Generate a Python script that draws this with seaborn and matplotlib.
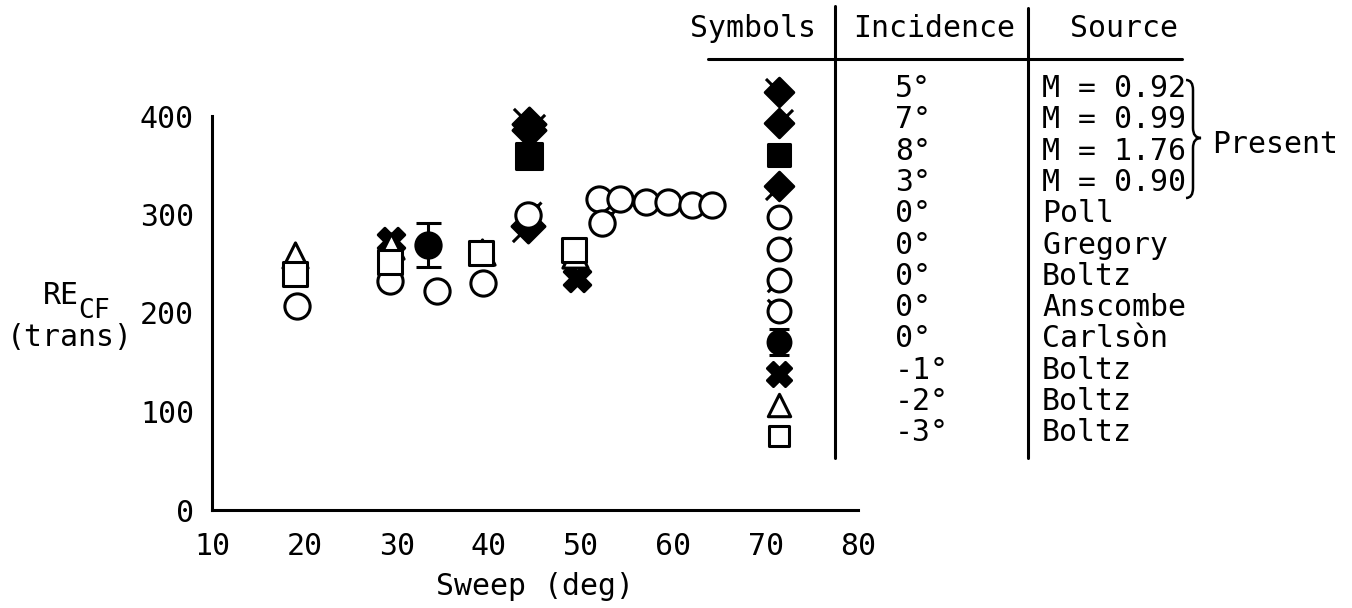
import matplotlib
matplotlib.use("Agg")
import matplotlib.pyplot as plt
from matplotlib.path import Path
from matplotlib.patches import PathPatch
import seaborn as sns

sns.set_style("white")
plt.rcParams["font.family"] = ["DejaVu Sans Mono", "DejaVu Sans"]
plt.rcParams["font.size"] = 21.5
plt.rcParams["text.color"] = "black"
plt.rcParams["axes.labelcolor"] = "black"
plt.rcParams["xtick.color"] = "black"
plt.rcParams["ytick.color"] = "black"

# -------------------------------------------------------------------
# Data (sweep in deg, RE_CF transition)
# -------------------------------------------------------------------
m092_x = [44.3]
m092_y = [392]
m099_x = [44.4]
m099_y = [386]
m176_x = [44.4]
m176_y = [359]
m090_x = [44.2]
m090_y = [288]
poll_x = [19.2, 29.3, 34.4, 39.4, 51.9, 54.2, 57.0, 59.4, 62.0, 64.2]
poll_y = [207, 232, 222, 230, 316, 316, 313, 313, 310, 310]
gregory_x = [44.2, 52.3]
gregory_y = [300, 291]
carlson_x = [33.4]
carlson_y = [269]
carlson_err = [22]
boltz_m1_x = [29.4, 49.5]
boltz_m1_y = [273, 236]
boltz_m2_x = [19.0, 29.4, 39.3, 49.3]
boltz_m2_y = [259, 268, 262, 259]
boltz_m3_x = [19.0, 29.3, 39.2, 49.2]
boltz_m3_y = [240, 252, 261, 264]

incidence = ["5°", "7°", "8°", "3°", "0°", "0°", "0°", "0°", "0°", "-1°", "-2°", "-3°"]
sources = ["M = 0.92", "M = 0.99", "M = 1.76", "M = 0.90", "Poll", "Gregory",
           "Boltz", "Anscombe", "Carlsòn", "Boltz", "Boltz", "Boltz"]

x_ticks = [10, 20, 30, 40, 50, 60, 70, 80]
y_ticks = [0, 100, 200, 300, 400]


# -------------------------------------------------------------------
# Custom marker shapes: diamond / circle with a small tick
# -------------------------------------------------------------------
def with_tick(base, dx, dy, r0, r1):
    tick = Path([(r0 * dx, r0 * dy), (r1 * dx, r1 * dy)], [Path.MOVETO, Path.LINETO])
    return Path.make_compound_path(base, tick)


diamond = Path([(0, 1), (1, 0), (0, -1), (-1, 0), (0, 1)],
               [Path.MOVETO, Path.LINETO, Path.LINETO, Path.LINETO, Path.CLOSEPOLY])
circle = Path.unit_circle()

diam_ul = with_tick(diamond, -1, 1, 0.5, 0.95)
diam_ur = with_tick(diamond, 1, 1, 0.5, 0.95)
diam_ll = with_tick(diamond, -1, -1, 0.5, 0.95)
circ_ur = with_tick(circle, 0.707, 0.707, 1.0, 1.45)
circ_ll = with_tick(circle, -0.707, -0.707, 1.0, 1.45)
circ_ul = with_tick(circle, -0.707, 0.707, 1.0, 1.45)

LW = 2.2
series = [
    # x, y, marker, face, size (plot), size (legend)
    (m092_x, m092_y, diam_ul, "black", 560, 420),
    (m099_x, m099_y, diam_ur, "black", 560, 420),
    (m176_x, m176_y, "s", "black", 330, 240),
    (m090_x, m090_y, diam_ll, "black", 560, 420),
    (poll_x, poll_y, "o", "white", 330, 270),
    (gregory_x, gregory_y, circ_ur, "white", 350, 285),
    ([], [], circ_ll, "white", 350, 285),
    ([], [], circ_ul, "white", 350, 285),
    (carlson_x, carlson_y, "o", "black", 330, 270),
    (boltz_m1_x, boltz_m1_y, "X", "black", 360, 300),
    (boltz_m2_x, boltz_m2_y, "^", "white", 330, 260),
    (boltz_m3_x, boltz_m3_y, "s", "white", 300, 220),
]

fig = plt.figure(figsize=(13.52, 6.08), dpi=100)
W, H = 1352, 608
ax = fig.add_axes([212 / W, 1 - 510 / H, 646 / W, 394 / H])
ax.patch.set_visible(False)

ax.errorbar(carlson_x, carlson_y, yerr=carlson_err, fmt="none", ecolor="black",
            elinewidth=LW, capsize=9, capthick=LW, clip_on=False, zorder=2)
for xs, ys, mk, face, s_plot, s_leg in series:
    if not xs:
        continue
    sns.scatterplot(x=xs, y=ys, ax=ax, marker=mk, s=s_plot, color=face,
                    edgecolor="black", linewidth=LW, clip_on=False, zorder=3)

ax.set_xlim(10, 80)
ax.set_ylim(0, 400)
ax.set_xticks(x_ticks)
ax.set_yticks(y_ticks)
sns.despine(ax=ax)
for side in ["left", "bottom"]:
    ax.spines[side].set_linewidth(LW)
    ax.spines[side].set_color("black")
ax.tick_params(axis="x", direction="in", length=18, width=LW, pad=16)
ax.tick_params(axis="y", direction="in", length=14, width=LW, pad=13)
ax.set_xlabel("Sweep (deg)", labelpad=8)

# -------------------------------------------------------------------
# Overlay in pixel coordinates for the y label and the symbol table
# -------------------------------------------------------------------
ov = fig.add_axes([0, 0, 1, 1])
ov.set_xlim(0, W)
ov.set_ylim(H, 0)
ov.axis("off")

ov.text(43, 304, "RE", ha="left", va="baseline")
ov.text(78, 318, "CF", ha="left", va="baseline", fontsize=19)
ov.text(70, 346, "(trans)", ha="center", va="baseline")

# table frame
ov.plot([708, 1182], [59, 59], color="black", lw=LW)
ov.plot([835, 835], [6, 458], color="black", lw=LW)
ov.plot([1028, 1028], [8, 458], color="black", lw=LW)
ov.text(690, 37, "Symbols", ha="left", va="baseline")
ov.text(853, 37, "Incidence", ha="left", va="baseline")
ov.text(1070, 37, "Source", ha="left", va="baseline")

row_h = 31.3
for i, (inc, src) in enumerate(zip(incidence, sources)):
    base = 97 + i * row_h
    ov.text(895, base, inc, ha="left", va="baseline")
    ov.text(1042, base, src, ha="left", va="baseline")

sym_x = 779
for i, (xs, ys, mk, face, s_plot, s_leg) in enumerate(series):
    yc = 92 + i * row_h
    if mk == "o" and face == "black":
        ov.errorbar([sym_x], [yc], yerr=[13], fmt="none", ecolor="black",
                    elinewidth=LW, capsize=7, capthick=LW)
    sns.scatterplot(x=[sym_x], y=[yc], ax=ov, marker=mk, s=s_leg, color=face,
                    edgecolor="black", linewidth=LW, zorder=3)

# brace for the "Present" group
bx0, bx1, bx2 = 1186, 1193, 1201
top, mid, bot = 80, 138, 198
brace = Path(
    [(bx0, top), (bx1, top), (bx1, top + 10), (bx1, mid - 10), (bx1, mid), (bx2, mid),
     (bx1, mid), (bx1, mid + 10), (bx1, bot - 10), (bx1, bot), (bx0, bot)],
    [Path.MOVETO, Path.CURVE3, Path.CURVE3, Path.LINETO, Path.CURVE3, Path.CURVE3,
     Path.CURVE3, Path.CURVE3, Path.LINETO, Path.CURVE3, Path.CURVE3])
ov.add_patch(PathPatch(brace, facecolor="none", edgecolor="black", lw=1.8))
ov.text(1212, 153, "Present", ha="left", va="baseline")

fig.savefig("out.png", dpi=100)
